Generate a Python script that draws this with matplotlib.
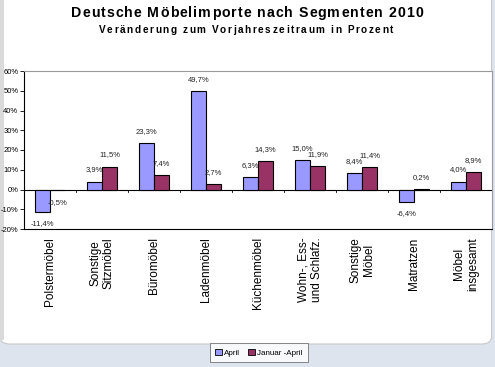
import matplotlib
matplotlib.use('Agg')
from matplotlib import pyplot as plt
from matplotlib.patches import FancyBboxPatch, Patch
import numpy as np

# Daten
kategorien = ['Polstermöbel', 'Sonstige\nSitzmöbel', 'Büromöbel', 'Ladenmöbel',
              'Küchenmöbel', 'Wohn-, Ess-\nund Schlafz.', 'Sonstige\nMöbel',
              'Matratzen', 'Möbel\ninsgesamt']
april = [-11.4, 3.9, 23.3, 49.7, 6.3, 15.0, 8.4, -6.4, 4.0]
jan_april = [-0.5, 11.5, 7.4, 2.7, 14.3, 11.9, 11.4, 0.2, 8.9]
y_ticks = [-20, -10, 0, 10, 20, 30, 40, 50, 60]

titel = 'Deutsche Möbelimporte nach Segmenten 2010'
untertitel = 'Veränderung zum Vorjahreszeitraum in Prozent'

plt.rcParams['font.family'] = ['Liberation Sans', 'DejaVu Sans']

W, H = 495, 367
fig = plt.figure(figsize=(W / 100, H / 100), dpi=100, facecolor='#dde4ed')
renderer = fig.canvas.get_renderer()


def gesperrt(xc, yc, s, size, extra):
    # Text mit Sperrung: Zeichen einzeln setzen (Pixel-Koordinaten)
    breiten = []
    for ch in s:
        t = fig.text(0, 0, ch, fontsize=size, fontweight='bold')
        if ch == ' ':
            t2 = fig.text(0, 0, 'a a', fontsize=size, fontweight='bold')
            t3 = fig.text(0, 0, 'aa', fontsize=size, fontweight='bold')
            w = (t2.get_window_extent(renderer).width
                 - t3.get_window_extent(renderer).width)
            t2.remove(); t3.remove()
        else:
            w = t.get_window_extent(renderer).width
        t.remove()
        breiten.append(w)
    gesamt = sum(breiten) + extra * (len(s) - 1)
    xp = xc - gesamt / 2
    for ch, w in zip(s, breiten):
        fig.text(xp / W, 1 - yc / H, ch, fontsize=size, fontweight='bold',
                 ha='left', va='center')
        xp += w + extra


# weisser Hintergrund oben
panel = FancyBboxPatch((0.0, (H - 344) / H), 0.993, 344 / H + 0.08,
                       boxstyle='round,pad=0,rounding_size=0.02',
                       transform=fig.transFigure, facecolor='white',
                       edgecolor='#c8c8c8', linewidth=0.8, zorder=-2)
fig.patches.append(panel)
fig.patches.append(plt.Rectangle((0, (H - 340) / H), 0.008, 340 / H,
                                 transform=fig.transFigure, facecolor='#dadada',
                                 edgecolor='none', zorder=-1))

ax = fig.add_axes([24 / W, (H - 229) / H, (492 - 24) / W, (229 - 71) / H])
ax.set_zorder(2)
ax.set_facecolor('white')

x = np.arange(len(kategorien))
bw = 0.29
b1 = ax.bar(x - bw / 2, april, bw, color='#9999ff', edgecolor='black', linewidth=0.8,
            label='April', zorder=3)
b2 = ax.bar(x + bw / 2, jan_april, bw, color='#993366', edgecolor='black', linewidth=0.8,
            label='Januar -April', zorder=3)

for bars, vals in ((b1, april), (b2, jan_april)):
    for b, v in zip(bars, vals):
        off = 8.5 if v >= 0 else -8.5
        ax.annotate(('%.1f%%' % v).replace('.', ','),
                    (b.get_x() + b.get_width() / 2, v), xytext=(0, off),
                    textcoords='offset points', ha='center', va='center',
                    fontsize=5.5, color='#222222', zorder=4)

ax.set_xlim(-0.5, len(kategorien) - 0.5)
ax.set_ylim(-20, 60)
ax.set_yticks(y_ticks)
ax.set_yticklabels(['%d%%' % t for t in y_ticks], fontsize=5.5)
ax.tick_params(axis='y', direction='out', length=3, width=0.6, pad=1)

# Nulllinie mit Trennstrichen
ax.axhline(0, color='black', linewidth=0.8, zorder=2)
for xb in np.arange(0.5, len(kategorien) - 0.5):
    ax.plot([xb, xb], [0, -1.3], color='black', linewidth=0.6, zorder=2)

ax.set_xticks(x)
ax.set_xticklabels(kategorien, rotation=90, fontsize=8.5, va='top', ha='center',
                   multialignment='center')
ax.tick_params(axis='x', length=0, pad=6)

for s in ('left', 'bottom'):
    ax.spines[s].set_color('black')
    ax.spines[s].set_linewidth(0.8)
for s in ('top', 'right'):
    ax.spines[s].set_color('#999999')
    ax.spines[s].set_linewidth(0.8)

gesperrt(247, 13, titel, 10.2, 1.0)
gesperrt(246, 30, untertitel, 7.2, 1.6)

handles = [Patch(facecolor='#9999ff', edgecolor='black', linewidth=0.6, label='April'),
           Patch(facecolor='#993366', edgecolor='black', linewidth=0.6, label='Januar -April')]
leg = fig.legend(handles=handles, loc='upper center', bbox_to_anchor=(259 / W, (H - 343) / H),
                 ncol=2, fontsize=5.8, frameon=True, fancybox=False, handlelength=0.8,
                 handleheight=0.8, handletextpad=0.3, columnspacing=1.0,
                 borderpad=0.7, borderaxespad=0)
leg.get_frame().set_edgecolor('#555555')
leg.get_frame().set_linewidth(0.6)

fig.savefig('out.png', dpi=100, facecolor=fig.get_facecolor())
